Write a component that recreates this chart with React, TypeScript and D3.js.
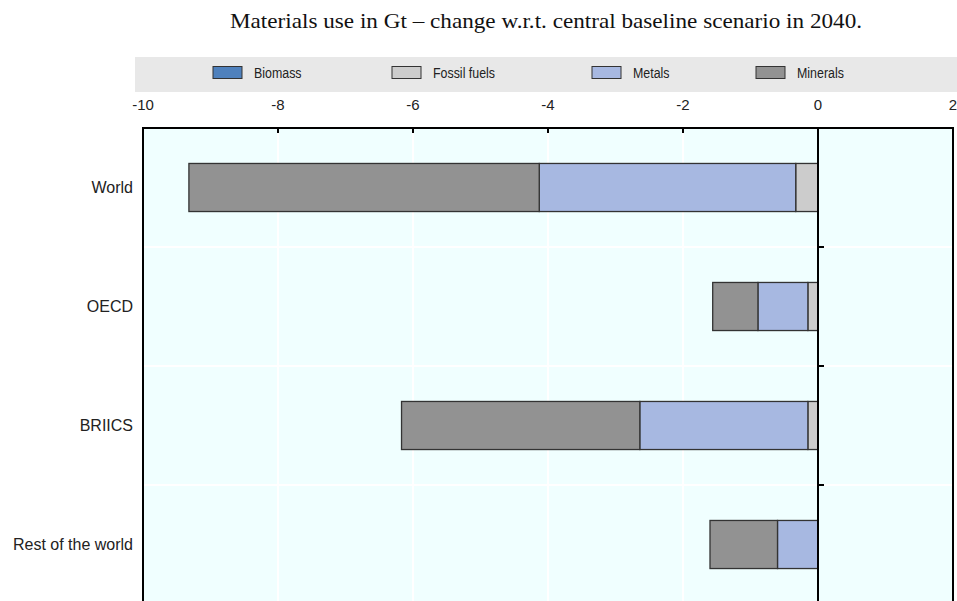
import React, { useEffect, useRef } from "react";
import * as d3 from "d3";

const categories = ["World", "OECD", "BRIICS", "Rest of the world"];
const seriesNames = ["Biomass", "Fossil fuels", "Metals", "Minerals"];
const biomass = [0, 0, 0, 0];
const fossilFuels = [-0.33, -0.15, -0.15, 0];
const metals = [-3.8, -0.74, -2.49, -0.6];
const minerals = [-5.19, -0.67, -3.53, -1.0];
const xTicks = [-10, -8, -6, -4, -2, 0, 2];
const colors = ["#4F81BD", "#CCCCCC", "#A7B8E1", "#929292"];
const title = "Materials use in Gt \u2013 change w.r.t. central baseline scenario in 2040.";

const W = 957;
const H = 601;
const M = { left: 143, right: 953, top: 128, bottom: 604 };

export default function App() {
  const ref = useRef<SVGSVGElement>(null);
  useEffect(() => {
    const svg = d3.select(ref.current);
    svg.selectAll("*").remove();
    const font = "'Liberation Sans', Arial, sans-serif";

    const x = d3.scaleLinear().domain([-10, 2]).range([M.left, M.right]);
    const y = d3.scaleBand().domain(categories).range([M.top, M.bottom]).paddingInner(0.596).paddingOuter(0.298);
    const yFull = d3.scaleBand().domain(categories).range([M.top, M.bottom]);

    const rows = categories.map((c, i) => ({
      cat: c,
      "Biomass": biomass[i],
      "Fossil fuels": fossilFuels[i],
      "Metals": metals[i],
      "Minerals": minerals[i],
    }));
    const stacked = d3.stack<any>().keys(seriesNames).offset(d3.stackOffsetDiverging)(rows);

    // title
    svg.append("text").attr("x", 546).attr("y", 28).attr("text-anchor", "middle")
      .attr("font-family", "'Liberation Serif', 'Times New Roman', serif").attr("font-size", 22)
      .attr("textLength", 632).attr("lengthAdjust", "spacingAndGlyphs")
      .attr("fill", "#111").text(title);

    // legend band
    svg.append("rect").attr("x", 135).attr("y", 57).attr("width", W - 135).attr("height", 35).attr("fill", "#E8E8E8");
    const legendX = [213, 392, 592, 756];
    seriesNames.forEach((s, i) => {
      svg.append("rect").attr("x", legendX[i]).attr("y", 66.5).attr("width", 29).attr("height", 12)
        .attr("fill", colors[i]).attr("stroke", "#333").attr("stroke-width", 1);
      const t = svg.append("text").attr("x", legendX[i] + 41).attr("y", 77.5).attr("font-family", font)
        .attr("font-size", 15.5).attr("fill", "#222").text(s);
      const node = t.node() as SVGTextElement;
      const len = node.getComputedTextLength();
      if (len > 0) t.attr("textLength", len * 0.8).attr("lengthAdjust", "spacingAndGlyphs");
    });

    // plot background
    svg.append("rect").attr("x", M.left).attr("y", M.top).attr("width", M.right - M.left).attr("height", M.bottom - M.top)
      .attr("fill", "#F0FFFF");

    // gridlines
    xTicks.forEach((t) => {
      if (t === -10 || t === 0 || t === 2) return;
      svg.append("line").attr("x1", x(t)).attr("x2", x(t)).attr("y1", M.top).attr("y2", M.bottom)
        .attr("stroke", "#FFFFFF").attr("stroke-width", 2);
    });
    categories.slice(1).forEach((c) => {
      const yy = yFull(c)!;
      svg.append("line").attr("x1", M.left).attr("x2", M.right).attr("y1", yy).attr("y2", yy)
        .attr("stroke", "#FFFFFF").attr("stroke-width", 2);
    });

    // bars
    stacked.forEach((layer, i) => {
      svg.append("g").selectAll("rect").data(layer).join("rect")
        .attr("x", (d: any) => x(Math.min(d[0], d[1])))
        .attr("width", (d: any) => Math.abs(x(d[1]) - x(d[0])))
        .attr("y", (d: any) => y(d.data.cat)!)
        .attr("height", y.bandwidth())
        .attr("fill", colors[i])
        .attr("stroke", (d: any) => (Math.abs(d[1] - d[0]) > 0 ? "#333" : "none"))
        .attr("stroke-width", 1.3);
    });

    // zero line
    svg.append("line").attr("x1", x(0)).attr("x2", x(0)).attr("y1", M.top).attr("y2", M.bottom)
      .attr("stroke", "#000").attr("stroke-width", 2);
    categories.slice(1).forEach((c) => {
      const yy = yFull(c)!;
      svg.append("line").attr("x1", x(0)).attr("x2", x(0) + 6).attr("y1", yy).attr("y2", yy)
        .attr("stroke", "#000").attr("stroke-width", 2);
    });

    // border
    svg.append("path")
      .attr("d", `M${M.left},${M.bottom}V${M.top}H${M.right}V${M.bottom}`)
      .attr("fill", "none").attr("stroke", "#000").attr("stroke-width", 2);

    // top ticks
    xTicks.forEach((t) => {
      svg.append("line").attr("x1", x(t)).attr("x2", x(t)).attr("y1", M.top).attr("y2", M.top + 5)
        .attr("stroke", "#000").attr("stroke-width", 2);
      svg.append("text").attr("x", x(t)).attr("y", 110).attr("text-anchor", "middle")
        .attr("font-family", font).attr("font-size", 15).attr("fill", "#222").text(String(t));
    });

    // category labels
    categories.forEach((c) => {
      svg.append("text").attr("x", 133).attr("y", yFull(c)! + yFull.bandwidth() / 2 + 5.5)
        .attr("text-anchor", "end").attr("font-family", font)
        .attr("font-size", 16).attr("fill", "#222").text(c);
    });
  }, []);

  return (
    <svg ref={ref} width={W} height={H} style={{ position: "absolute", left: 0, top: 0, background: "#fff" }} />
  );
}
